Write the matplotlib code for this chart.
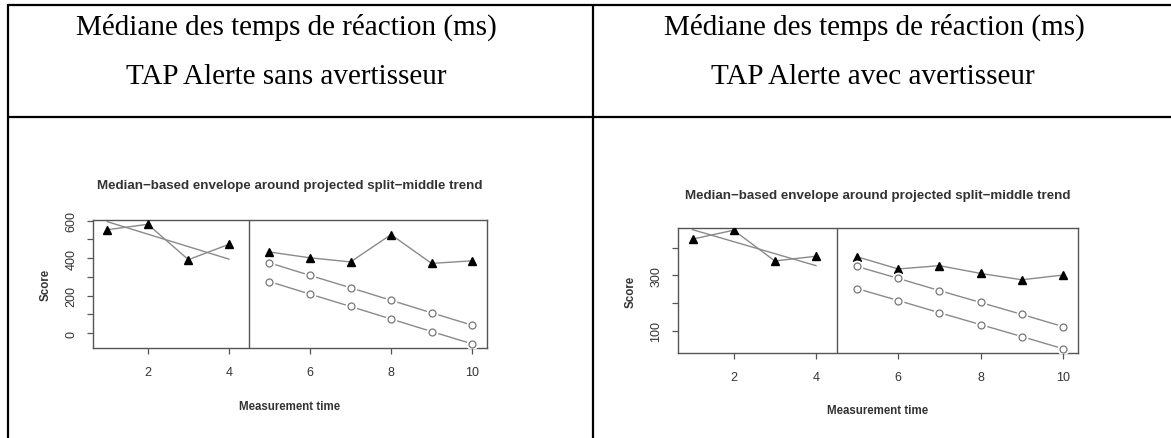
import matplotlib
matplotlib.use("Agg")
import matplotlib.pyplot as plt

W, H = 1171, 439

# header texts
head_line1 = "Médiane des temps de réaction (ms)"
head_left = "TAP Alerte sans avertisseur"
head_right = "TAP Alerte avec avertisseur"
plot_title = "Median\u2212based envelope around projected split\u2212middle trend"

# --- left panel (sans avertisseur) ---
L_xa = [1, 2, 3, 4]
L_ya = [552, 581, 392, 474]
L_trend_x = [1, 4]
L_trend_y = [595, 395]
L_xb = [5, 6, 7, 8, 9, 10]
L_yb = [433, 402, 380, 526, 372, 386]
L_up = [375, 308, 242, 175, 108, 42]
L_lo = [275, 208, 142, 75, 8, -58]
L_yticks = [0, 100, 200, 300, 400, 500, 600]
L_ylabels = ["0", "", "200", "", "400", "", "600"]

# --- right panel (avec avertisseur) ---
R_xa = [1, 2, 3, 4]
R_ya = [431, 463, 352, 369]
R_trend_x = [1, 4]
R_trend_y = [465, 335]
R_xb = [5, 6, 7, 8, 9, 10]
R_yb = [367, 323, 335, 307, 284, 301]
R_up = [332, 289, 245, 202, 159, 115]
R_lo = [252, 209, 165, 122, 79, 35]
R_yticks = [100, 200, 300, 400]
R_ylabels = ["100", "", "300", ""]

xticks = [2, 4, 6, 8, 10]

LINE = "#8a8a8a"
AX = "#555555"
TXT = "#333333"

fig = plt.figure(figsize=(W / 100, H / 100), dpi=100)
bg = fig.add_axes([0, 0, 1, 1])
bg.set_xlim(0, W); bg.set_ylim(H, 0); bg.axis("off")

# table grid
kw = dict(color="black", lw=1.6, solid_capstyle="butt")
bg.plot([8, W], [6, 6], **kw)
bg.plot([8, W], [118, 118], **kw)
bg.plot([8, 8], [5, H], **kw)
bg.plot([593, 593], [5, H], **kw)

serif = dict(family="Liberation Serif", fontsize=21, color="black", ha="center", va="center")
bg.text(286, 27, head_line1, **serif)
bg.text(286, 77, head_left, **serif)
bg.text(874, 27, head_line1, **serif)
bg.text(873, 77, head_right, **serif)


def panel(box, ylim, yticks, ylabels, xa, ya, tx, ty, xb, yb, up, lo, title_y, score_x, xlab_y):
    x0, y0, x1, y1 = box
    ax = fig.add_axes([x0 / W, 1 - y1 / H, (x1 - x0) / W, (y1 - y0) / H])
    ax.set_xlim(0.64, 10.36)
    ax.set_ylim(*ylim)
    ax.axvline(4.5, color=AX, lw=1.0)
    ax.plot(tx, ty, color=LINE, lw=1.0)
    ax.plot(xa, ya, color=LINE, lw=1.0, zorder=3)
    ax.plot(xa, ya, "^", color="black", ms=6, zorder=4)
    ax.plot(xb, yb, color=LINE, lw=1.0, zorder=3)
    ax.plot(xb, yb, "^", color="black", ms=6, zorder=4)
    for env in (up, lo):
        ax.plot(xb, env, color=LINE, lw=1.0, zorder=3)
        ax.plot(xb, env, "o", color="white", ms=7.5, zorder=4)
        ax.plot(xb, env, "o", mfc="none", mec="#777777", mew=0.9, ms=5, zorder=5)
    for s in ax.spines.values():
        s.set_color(AX); s.set_linewidth(1.0)
    ax.set_xticks(xticks)
    ax.set_yticks(yticks)
    ax.set_yticklabels(ylabels, rotation=90, va="center")
    ax.tick_params(colors=AX, labelcolor=TXT, length=4, width=0.9, labelsize=9)
    ax.tick_params(axis="x", pad=9)
    ax.tick_params(axis="y", pad=7)
    for lab in ax.get_xticklabels() + ax.get_yticklabels():
        lab.set_family("Liberation Sans")
    cx = (x0 + x1) / 2
    bg.text(cx, title_y, plot_title, family="Liberation Sans", weight="bold",
            fontsize=9.6, color=TXT, ha="center", va="center")
    bg.text(score_x, (y0 + y1) / 2, "Score", family="Liberation Sans", weight="bold",
            fontsize=8.3, color=TXT, ha="center", va="center", rotation=90)
    bg.text(cx, xlab_y, "Measurement time", family="Liberation Sans", weight="bold",
            fontsize=8.3, color=TXT, ha="center", va="center")
    return ax


panel((92.7, 221, 486.7, 349), (-80, 604), L_yticks, L_ylabels,
      L_xa, L_ya, L_trend_x, L_trend_y, L_xb, L_yb, L_up, L_lo, 186, 46, 407)
panel((677.7, 229, 1077.7, 354), (19.5, 471), R_yticks, R_ylabels,
      R_xa, R_ya, R_trend_x, R_trend_y, R_xb, R_yb, R_up, R_lo, 196, 631, 411)

fig.savefig("out.png", dpi=100)
